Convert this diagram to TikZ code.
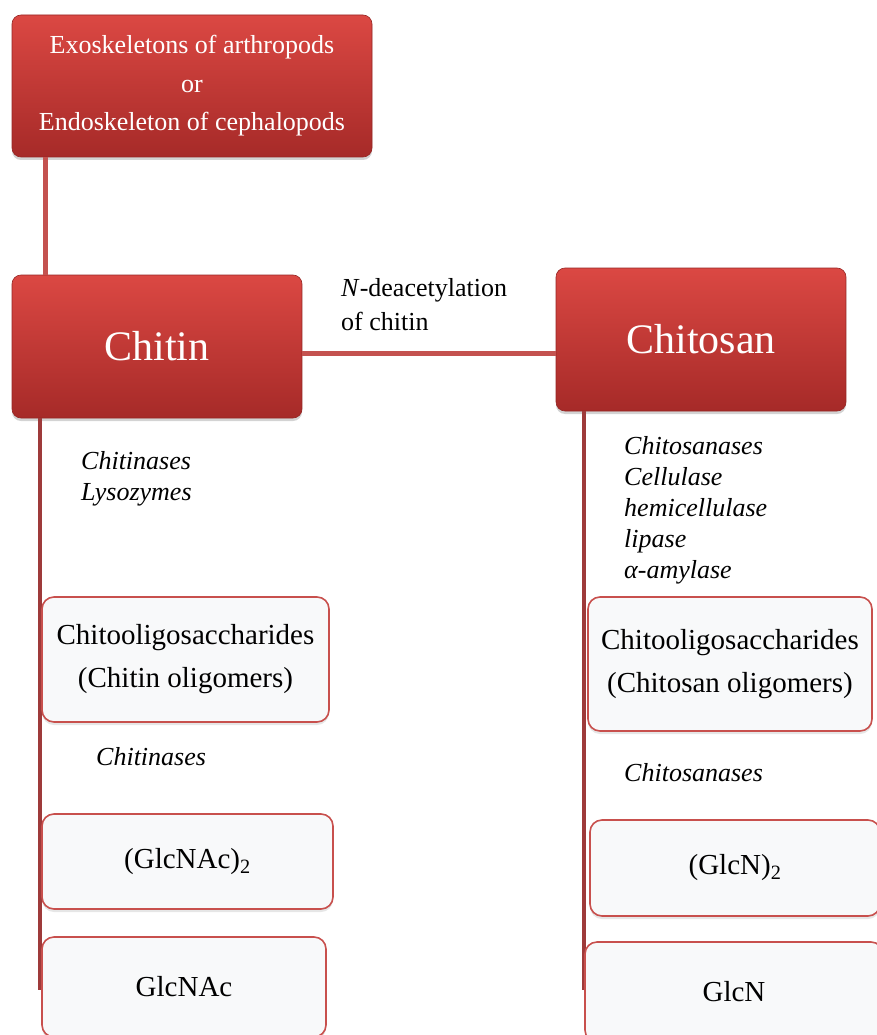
\documentclass[tikz,border=0pt]{standalone}
\usepackage{fontspec}
\setmainfont{Liberation Serif}
\usetikzlibrary{shadows}

\definecolor{boxtop}{RGB}{219,72,67}
\definecolor{boxbot}{RGB}{166,42,40}
\definecolor{linkred}{RGB}{196,82,79}
\definecolor{trunkred}{RGB}{158,58,58}
\definecolor{edgered}{RGB}{200,80,77}
\definecolor{paper}{RGB}{248,249,250}

\tikzset{
  redbox/.style={rounded corners=9pt,top color=boxtop,bottom color=boxbot,
    draw=boxbot!90!black,line width=0.6pt,text=white,align=center,inner sep=0pt,
    drop shadow={opacity=0.35,shadow xshift=0pt,shadow yshift=-3pt}},
  whitebox/.style={rounded corners=12pt,fill=paper,draw=edgered,line width=1.6pt,
    align=center,inner sep=0pt,
    drop shadow={opacity=0.2,shadow xshift=0pt,shadow yshift=-3pt}},
  link/.style={draw=linkred,line width=5pt},
  trunk/.style={draw=trunkred,line width=4pt},
  enzyme/.style={anchor=west,align=left,inner sep=0pt,font=\fontsize{26}{31}\selectfont\itshape},
}

\begin{document}
\begin{tikzpicture}[x=1pt,y=-1pt]
        \useasboundingbox (0,0) rectangle (876,1035);

        %------------------
        % source and the two polymers
        %------------------

        \node[redbox,minimum width=360pt,minimum height=142pt,
          font=\fontsize{26}{38.5}\selectfont] (src) at (192,86)
          {\raisebox{-3pt}{Exoskeletons of arthropods}\\\raisebox{-3pt}{or}\\\raisebox{-3pt}{Endoskeleton of cephalopods}};
        \node[redbox,minimum width=290pt,minimum height=143pt,
          font=\fontsize{42}{50}\selectfont] (chitin) at (157,346.5) {Chitin};
        \node[redbox,minimum width=290pt,minimum height=143pt,
          font=\fontsize{42}{50}\selectfont] (chitosan) at (701,339.5) {Chitosan};

        %------------------
        % connectors
        %------------------

        \coordinate (srcfoot) at (45,0);
        \draw[link] (src.south -| srcfoot) -- (chitin.north -| srcfoot);
        \draw[link] (chitin.east |- 0,353) -- (chitosan.west |- 0,353);

        \node[anchor=west,align=left,inner sep=0pt,font=\fontsize{26}{34}\selectfont]
          (deac) at (341,305) {\textit{N}-deacetylation\\of chitin};

        \coordinate (lend) at (40,990);
        \coordinate (rend) at (584,990);
        \draw[trunk] (chitin.south -| lend) -- (lend);
        \draw[trunk] (chitosan.south -| rend) -- (rend);

        %------------------
        % chitin branch
        %------------------

        \node[enzyme] (chitenz) at (81,479) {Chitinases\\Lysozymes};
        \node[whitebox,minimum width=287pt,minimum height=125pt,
          font=\fontsize{29}{43}\selectfont] (olichitin) at (185.5,659.5)
          {Chitooligosaccharides\\(Chitin oligomers)};
        \node[enzyme] (chitenzb) at (96,757) {Chitinases};
        \node[whitebox,minimum width=291pt,minimum height=95pt,
          font=\fontsize{29}{43}\selectfont] (dimchitin) at (187.5,861.5) {(GlcNAc)\textsubscript{2}};
        \node[whitebox,minimum width=284pt,minimum height=100pt,
          font=\fontsize{29}{43}\selectfont] (monochitin) at (184,987) {GlcNAc};

        %------------------
        % chitosan branch
        %------------------

        \node[enzyme] (chitosenz) at (624,510)
          {Chitosanases\\Cellulase\\hemicellulase\\lipase\\α-amylase};
        \node[whitebox,minimum width=284pt,minimum height=134pt,
          font=\fontsize{29}{43}\selectfont] (olichitosan) at (730,664)
          {Chitooligosaccharides\\(Chitosan oligomers)};
        \node[enzyme] (chitosenzb) at (624,773) {Chitosanases};
        \node[whitebox,minimum width=290pt,minimum height=96pt,
          font=\fontsize{29}{43}\selectfont] (dimchitosan) at (735,868) {(GlcN)\textsubscript{2}};
        \node[whitebox,minimum width=298pt,minimum height=100pt,
          font=\fontsize{29}{43}\selectfont] (monochitosan) at (734,992) {GlcN};
\end{tikzpicture}
\end{document}
